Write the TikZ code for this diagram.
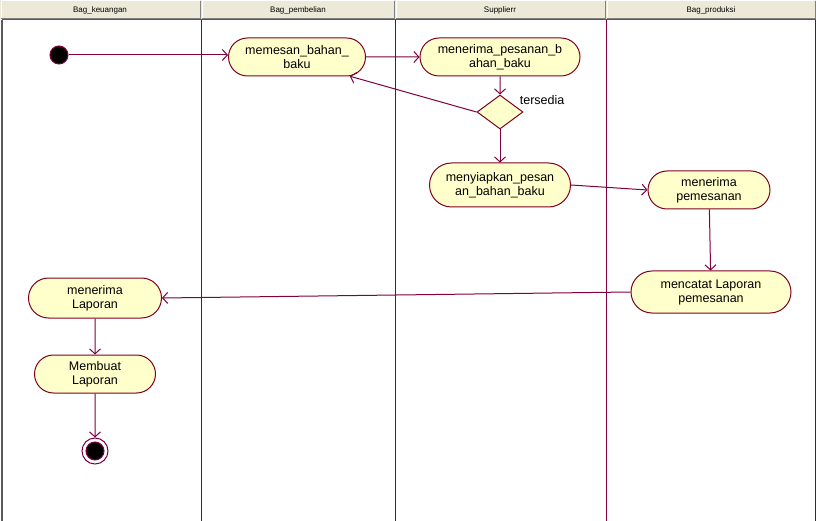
\documentclass[tikz,border=0pt]{standalone}
\usepackage{fontspec}
\setmainfont{Liberation Sans}
\usetikzlibrary{shapes.geometric,shapes.misc,arrows.meta}
\definecolor{lane}{RGB}{128,0,64}
\definecolor{actfill}{RGB}{255,255,204}
\definecolor{actdraw}{RGB}{128,0,32}
\definecolor{headfill}{RGB}{236,233,216}
\begin{document}
\begin{tikzpicture}[x=1pt, y=-1pt, line width=1pt,
    activity/.style={rounded rectangle, draw=actdraw, fill=actfill, align=center,
        inner sep=0pt, minimum height=38pt, font=\fontsize{12.5}{14}\selectfont},
    flow/.style={draw=lane, -{Straight Barb[length=5pt,width=11pt]}},
    lanehead/.style={font=\fontsize{8}{9}\selectfont}]
    \useasboundingbox (0,0) rectangle (816,521);
    \fill[white] (0,0) rectangle (816,521);

    % Swimlane header band
    \fill[headfill] (0,0) rectangle (816,19);
    \foreach \xa/\xb in {0/201, 201/395, 395/606, 606/816} {
        \draw[white] (\xa+1,18) -- (\xa+1,1) -- (\xb-1,1);
        \draw[gray] (\xa+1,18.5) -- (\xb-1,18.5) -- (\xb-1,1);
    }
    \node[lanehead] (hkeu) at (100,10) {Bag\_keuangan};
    \node[lanehead] (hbeli) at (298,10) {Bag\_pembelian};
    \node[lanehead] (hsup) at (500,10) {Supplierr};
    \node[lanehead] (hprod) at (711,10) {Bag\_produksi};
    \draw[gray!70!black] (2,20) -- (816,20);
    \draw[gray!70!black, line width=1.5pt] (2,20) -- (2,521);

    % Swimlane borders
    \foreach \x in {201,395,606,815}
        \draw[lane] (\x,20) -- (\x,521);

    % Start and end
    \node[circle, fill=black, draw=lane, minimum size=18pt, inner sep=0pt] (start) at (59,55) {};
    \node[circle, draw=lane, fill=white, minimum size=26pt, inner sep=0pt] (stop) at (95,451) {};
    \node[circle, fill=black, draw=lane, minimum size=18pt, inner sep=0pt] (stopdot) at (95,451) {};

    % Activities
    \node[activity, minimum width=137pt] (pesan) at (297,57) {memesan\_bahan\_\\baku};
    \node[activity, minimum width=160pt] (terima) at (500,57) {menerima\_pesanan\_b\\ahan\_baku};
    \node[diamond, draw=actdraw, fill=actfill, minimum width=46pt, minimum height=34pt, inner sep=0pt] (cek) at (500,112) {};
    \node[font=\fontsize{12.5}{14}\selectfont, anchor=west] (tersedia) at (516,100) {tersedia};
    \node[activity, minimum width=141pt, minimum height=44pt] (siap) at (500,185) {menyiapkan\_pesan\\an\_bahan\_baku};
    \node[activity, minimum width=122pt] (terimapsn) at (709,190) {menerima\\pemesanan};
    \node[activity, minimum width=160pt, minimum height=42pt] (catat) at (711,292) {mencatat Laporan\\pemesanan};
    \node[activity, minimum width=133pt, minimum height=40pt] (terimalap) at (95,298) {menerima\\Laporan};
    \node[activity, minimum width=121pt] (buat) at (95,374) {Membuat\\Laporan};

    % Flows
    \draw[flow] (start) -- (pesan.west |- start);
    \draw[flow] (pesan) -- (terima);
    \draw[flow] (terima) -- (cek);
    \draw[flow] (cek.west) -- (pesan.-20);
    \draw[flow] (cek) -- (siap);
    \draw[flow] (siap.east) -- (terimapsn.west);
    \draw[flow] (terimapsn) -- (catat);
    \draw[flow] (catat.west) -- (terimalap.east);
    \draw[flow] (terimalap) -- (buat);
    \draw[flow] (buat) -- (stop);
\end{tikzpicture}
\end{document}
